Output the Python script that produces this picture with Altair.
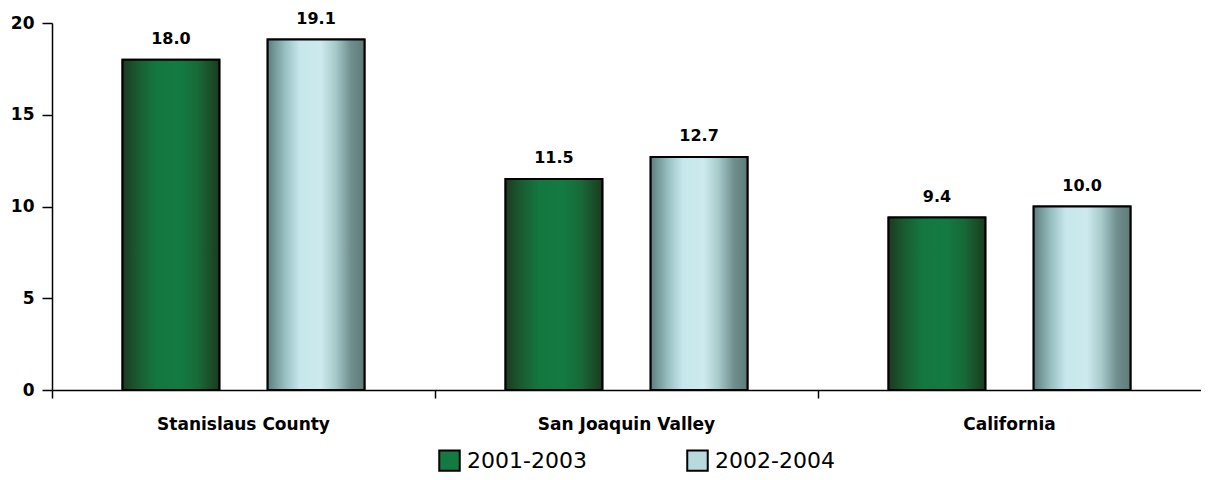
import altair as alt
import pandas as pd

groups = ["Stanislaus County", "San Joaquin Valley", "California"]
series = ["2001-2003", "2002-2004"]
values_2001_2003 = [18.0, 11.5, 9.4]
values_2002_2004 = [19.1, 12.7, 10.0]

rows = []
for g, v in zip(groups, values_2001_2003):
    rows.append({"group": g, "series": series[0], "value": v})
for g, v in zip(groups, values_2002_2004):
    rows.append({"group": g, "series": series[1], "value": v})
df = pd.DataFrame(rows)

FONT = "DejaVu Sans"

green_grad = alt.LinearGradient(
    gradient="linear", x1=0, x2=1, y1=0, y2=0,
    stops=[
        alt.GradientStop(color="#1d3a21", offset=0),
        alt.GradientStop(color="#195a30", offset=0.15),
        alt.GradientStop(color="#137840", offset=0.35),
        alt.GradientStop(color="#137a42", offset=0.6),
        alt.GradientStop(color="#176a38", offset=0.78),
        alt.GradientStop(color="#1b3b1e", offset=1),
    ],
)
light_grad = alt.LinearGradient(
    gradient="linear", x1=0, x2=1, y1=0, y2=0,
    stops=[
        alt.GradientStop(color="#5d7e7d", offset=0),
        alt.GradientStop(color="#98bfc1", offset=0.18),
        alt.GradientStop(color="#c6e7eb", offset=0.33),
        alt.GradientStop(color="#cdeaee", offset=0.55),
        alt.GradientStop(color="#a7caca", offset=0.7),
        alt.GradientStop(color="#6f8f8e", offset=0.86),
        alt.GradientStop(color="#5c7b79", offset=1),
    ],
)

x_enc = alt.X(
    "group:N", sort=groups, title=None,
    scale=alt.Scale(paddingInner=0, paddingOuter=0),
    axis=alt.Axis(
        bandPosition=0, labelAngle=0,
        labelFont=FONT, labelFontSize=17, labelFontWeight="bold", labelColor="#000000",
        labelBaseline="top", labelPadding=18,
        tickSize=8, tickColor="#000000", tickWidth=1.5,
        domainColor="#000000", domainWidth=1.5, grid=False,
    ),
)
xoff_enc = alt.XOffset(
    "series:N", sort=series,
    scale=alt.Scale(paddingInner=0.333, paddingOuter=0.486),
)
y_enc = alt.Y(
    "value:Q", title=None,
    scale=alt.Scale(domain=[0, 20], nice=False),
    axis=alt.Axis(
        values=[0, 5, 10, 15, 20], grid=False,
        labelFont=FONT, labelFontSize=17, labelFontWeight="bold", labelColor="#000000",
        labelPadding=8, tickSize=10, tickColor="#000000", tickWidth=1.5,
        domainColor="#000000", domainWidth=1.5,
    ),
)

base = alt.Chart(df).encode(x=x_enc, xOffset=xoff_enc, y=y_enc)

legend_bars = base.mark_bar(stroke="#000000", strokeWidth=2).encode(
    color=alt.Color(
        "series:N", sort=series,
        scale=alt.Scale(domain=series, range=["#137a42", "#b9dadd"]),
        legend=alt.Legend(
            title=None, orient="none", direction="horizontal",
            legendX=386, legendY=426,
            symbolType="square", symbolSize=420, symbolStrokeColor="#000000",
            symbolStrokeWidth=2, labelFont=FONT, labelFontSize=22,
            labelColor="#000000", labelOffset=6, columnPadding=96,
        ),
    )
)

green_bars = base.transform_filter(alt.datum.series == series[0]).mark_bar(
    fill=green_grad, stroke="#000000", strokeWidth=2
)
light_bars = base.transform_filter(alt.datum.series == series[1]).mark_bar(
    fill=light_grad, stroke="#000000", strokeWidth=2
)

labels = base.mark_text(
    dy=-16, baseline="alphabetic", font=FONT, fontSize=16, fontWeight="bold",
    color="#000000",
).encode(text=alt.Text("value:Q", format=".1f"))

chart = (
    alt.layer(legend_bars, green_bars, light_bars, labels)
    .properties(
        width=1149, height=367,
        autosize=alt.AutoSizeParams(type="none"),
        padding={"left": 44, "top": 15, "right": 0, "bottom": 82},
        background="#ffffff",
    )
    .configure_view(stroke="transparent", fill="transparent")
    .configure_axis(grid=False)
)

chart.save("out.html", embed_options={"renderer": "svg", "actions": False})
